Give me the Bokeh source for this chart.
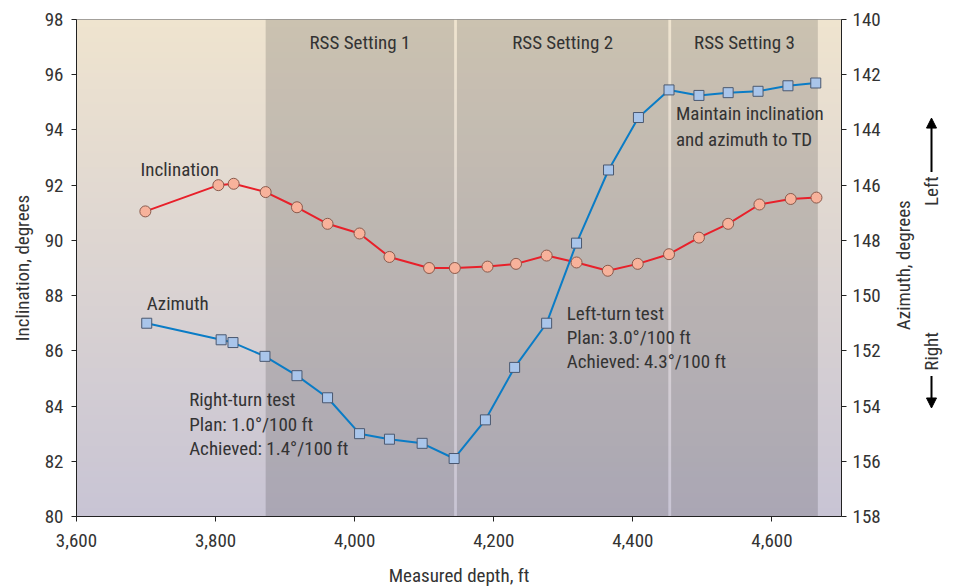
import numpy as np
from bokeh.plotting import figure
from bokeh.layouts import row
from bokeh.models import (Range1d, LinearAxis, FixedTicker, NumeralTickFormatter,
                          Arrow, NormalHead)
from bokeh.core.properties import value
from bokeh.embed import file_html
from bokeh.resources import INLINE

# ---------------- data ----------------
depth_incl = [3699, 3804, 3826, 3872, 3917, 3961, 4007, 4050, 4107, 4144, 4191,
              4232, 4276, 4319, 4364, 4407, 4452, 4495, 4537, 4582, 4627, 4664]
inclination = [91.05, 92.0, 92.05, 91.75, 91.2, 90.6, 90.25, 89.4, 89.0, 89.0, 89.05,
               89.15, 89.45, 89.2, 88.9, 89.15, 89.5, 90.1, 90.6, 91.3, 91.5, 91.55]

depth_azi = [3701, 3808, 3825, 3871, 3917, 3961, 4007, 4050, 4097, 4143, 4188,
             4230, 4276, 4319, 4365, 4408, 4452, 4495, 4537, 4580, 4623, 4663]
azimuth = [151.0, 151.6, 151.7, 152.2, 152.9, 153.7, 155.0, 155.2, 155.35, 155.9, 154.5,
           152.6, 151.0, 148.1, 145.45, 143.55, 142.55, 142.75, 142.65, 142.6, 142.4, 142.3]

rss_labels = ["RSS Setting 1", "RSS Setting 2", "RSS Setting 3"]
rss_start = [3872, 4147, 4455]
rss_end = [4143, 4451, 4666]

x_ticks = [3600, 3800, 4000, 4200, 4400, 4600]
incl_ticks = [80, 82, 84, 86, 88, 90, 92, 94, 96, 98]
azi_ticks = [140, 142, 144, 146, 148, 150, 152, 154, 156, 158]

FONT = "Roboto Condensed, Sofia Sans Condensed, Roboto"
TXT = "#333333"
FS = "19px"

p = figure(frame_width=765, frame_height=497,
           x_range=Range1d(3600, 4700), y_range=Range1d(80, 98),
           output_backend="svg", toolbar_location=None,
           min_border_left=76, min_border_right=50, min_border_top=19, min_border_bottom=70)
p.extra_y_ranges = {"azi": Range1d(158, 140)}
p.xgrid.visible = False
p.ygrid.visible = False
p.outline_line_color = "#8a8a8a"
p.border_fill_color = "white"

# background gradient
n = 256
t = np.linspace(0, 1, n)[:, None]
bottom_c = np.array([200, 196, 212])
top_c = np.array([239, 228, 207])
cols = bottom_c[None, :] * (1 - t) + top_c[None, :] * t
img = np.empty((n, 2), dtype=np.uint32)
view = img.view(dtype=np.uint8).reshape((n, 2, 4))
for k in range(3):
    view[:, :, k] = np.round(cols[:, k])[:, None].astype(np.uint8)
view[:, :, 3] = 255
p.image_rgba(image=[img], x=3600, y=80, dw=1100, dh=18)

# RSS shaded regions
p.quad(left=rss_start, right=rss_end, bottom=80, top=98,
       fill_color="black", fill_alpha=0.15, line_color=None)
rss_mid = [(a + b) / 2 for a, b in zip(rss_start, rss_end)]
p.text(x=rss_mid, y=[97.15] * 3, text=rss_labels, text_font=value(FONT),
       text_font_size=FS, text_color=TXT, text_align="center", text_baseline="middle")

# series
p.line(depth_incl, inclination, line_color="#e8202a", line_width=2)
p.scatter(depth_incl, inclination, marker="circle", size=11,
          fill_color="#f7b29b", line_color="#8a5a4c", line_width=1)

p.line(depth_azi, azimuth, y_range_name="azi", line_color="#0a7cc6", line_width=2)
p.scatter(depth_azi, azimuth, y_range_name="azi", marker="square", size=10,
          fill_color="#a9c5ea", line_color="#4a5870", line_width=1)

# annotations
notes = [
    ("Inclination", 3692, 92.56),
    ("Azimuth", 3701, 87.7),
    ("Right-turn test", 3762, 84.22),
    ("Plan: 1.0°/100 ft", 3762, 83.35),
    ("Achieved: 1.4°/100 ft", 3762, 82.48),
    ("Left-turn test", 4305, 87.37),
    ("Plan: 3.0°/100 ft", 4305, 86.48),
    ("Achieved: 4.3°/100 ft", 4305, 85.6),
    ("Maintain inclination", 4462, 94.58),
    ("and azimuth to TD", 4462, 93.65),
]
p.text(x=[n_[1] for n_ in notes], y=[n_[2] for n_ in notes], text=[n_[0] for n_ in notes],
       text_font=value(FONT), text_font_size=FS, text_color=TXT,
       text_align="left", text_baseline="middle")

# axes
def style_axis(ax):
    ax.major_tick_out = 5
    ax.major_tick_in = 0
    ax.minor_tick_out = 0
    ax.minor_tick_in = 0
    ax.axis_line_color = "#222222"
    ax.major_tick_line_color = "#222222"
    ax.major_label_text_font = FONT
    ax.major_label_text_font_size = FS
    ax.major_label_text_color = TXT
    ax.axis_label_text_font = FONT
    ax.axis_label_text_font_size = FS
    ax.axis_label_text_font_style = "normal"
    ax.axis_label_text_color = TXT

p.xaxis.ticker = FixedTicker(ticks=x_ticks)
p.xaxis.formatter = NumeralTickFormatter(format="0,0")
p.xaxis.axis_label = "Measured depth, ft"
p.yaxis.ticker = FixedTicker(ticks=incl_ticks)
p.yaxis.axis_label = "Inclination, degrees"
style_axis(p.xaxis[0])
style_axis(p.yaxis[0])
p.xaxis.major_label_standoff = 12
p.xaxis.axis_label_standoff = 14
p.yaxis.major_label_standoff = 8
p.yaxis.axis_label_standoff = 8

ax_r = LinearAxis(y_range_name="azi", ticker=FixedTicker(ticks=azi_ticks))
style_axis(ax_r)
ax_r.major_label_standoff = 6
p.add_layout(ax_r, "right")

# side panel: right axis title and Left / Right direction indicators
p2 = figure(frame_width=54, frame_height=497, x_range=Range1d(0, 54), y_range=p.y_range,
            output_backend="svg", toolbar_location=None,
            x_axis_location=None, y_axis_location=None,
            min_border_left=0, min_border_right=0, min_border_top=19, min_border_bottom=70)
p2.xgrid.visible = False
p2.ygrid.visible = False
p2.outline_line_color = None
p2.text(x=[11.5], y=[89.1], text=["Azimuth, degrees"], angle=np.pi / 2,
        text_font=value(FONT), text_font_size=FS, text_color=TXT,
        text_align="center", text_baseline="middle")
p2.text(x=[40, 40], y=[91.78, 85.98], text=["Left", "Right"], angle=np.pi / 2,
        text_font=value(FONT), text_font_size=FS, text_color=TXT,
        text_align="center", text_baseline="middle")
p2.add_layout(Arrow(end=NormalHead(size=10, fill_color="black", line_color="black"),
                    x_start=40, y_start=92.48, x_end=40, y_end=94.43,
                    line_width=2, line_color="black"))
p2.add_layout(Arrow(end=NormalHead(size=10, fill_color="black", line_color="black"),
                    x_start=40, y_start=85.09, x_end=40, y_end=83.93,
                    line_width=2, line_color="black"))

layout = row(p, p2, spacing=0)
open("out.html", "w").write(file_html(layout, INLINE))
